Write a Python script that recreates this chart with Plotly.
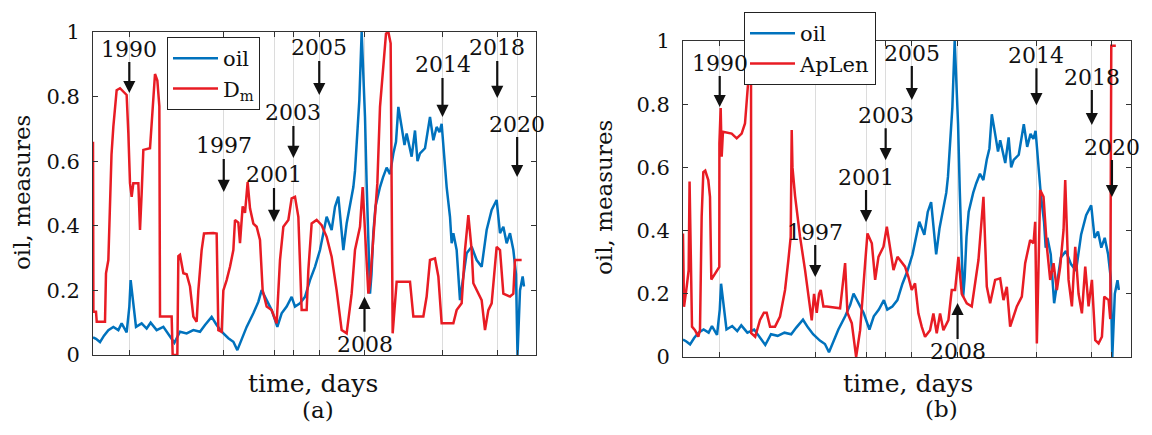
import plotly.graph_objects as go

# ---------------- data (time axis in days) ----------------
oil_days = [0, 60, 140, 220, 307, 407, 507, 573, 673, 727, 753, 793, 860, 973, 1073, 1153,
            1273, 1407, 1540, 1627, 1740, 1873, 2007, 2140, 2240, 2373, 2473, 2573, 2707,
            2807, 2887, 2973, 3073, 3207, 3307, 3373, 3473, 3573, 3687, 3773, 3873, 3973,
            4040, 4140, 4240, 4340, 4440, 4540, 4607, 4673, 4773, 4840, 4907, 4973, 5007,
            5073, 5173, 5207, 5240, 5273, 5327, 5373, 5407, 5440, 5473, 5507, 5540, 5570,
            5607, 5650, 5700, 5740, 5800, 5873, 5940, 6007, 6060, 6107, 6173, 6230, 6273,
            6373, 6440, 6490, 6540, 6640, 6740, 6807, 6873, 6930, 6973, 7020, 7073, 7140,
            7173, 7207, 7273, 7340, 7407, 7473, 7573, 7673, 7773, 7873, 7973, 8073, 8140,
            8207, 8273, 8340, 8407, 8460, 8490, 8540, 8593, 8620]
oil_vals = [0.055, 0.05, 0.04, 0.06, 0.077, 0.087, 0.077, 0.098, 0.07, 0.15, 0.232, 0.17,
            0.087, 0.098, 0.082, 0.1, 0.077, 0.087, 0.057, 0.038, 0.072, 0.067, 0.077, 0.072,
            0.093, 0.118, 0.093, 0.072, 0.052, 0.041, 0.015, 0.046, 0.087, 0.129, 0.165,
            0.201, 0.17, 0.139, 0.087, 0.129, 0.15, 0.18, 0.15, 0.16, 0.18, 0.232, 0.273,
            0.325, 0.377, 0.428, 0.387, 0.459, 0.49, 0.366, 0.325, 0.407, 0.5, 0.52, 0.57,
            0.655, 0.79, 1.0, 0.89, 0.737, 0.53, 0.377, 0.19, 0.25, 0.38, 0.46, 0.5, 0.52,
            0.55, 0.58, 0.56, 0.624, 0.66, 0.768, 0.706, 0.65, 0.686, 0.614, 0.695, 0.6,
            0.624, 0.64, 0.737, 0.665, 0.706, 0.69, 0.716, 0.624, 0.52, 0.428, 0.346, 0.377,
            0.325, 0.17, 0.243, 0.315, 0.335, 0.294, 0.273, 0.387, 0.449, 0.48, 0.377,
            0.397, 0.346, 0.377, 0.325, 0.25, 0.0, 0.2, 0.243, 0.212]

dm_days = [0, 8, 60, 75, 240, 260, 307, 340, 370, 407, 440, 473, 540, 607, 673, 707, 740,
           773, 807, 907, 940, 973, 1007, 1140, 1193, 1240, 1287, 1327, 1340, 1573, 1593,
           1687, 1707, 1740, 1807, 1873, 1940, 2007, 2073, 2107, 2173, 2220, 2407, 2473,
           2507, 2573, 2607, 2673, 2740, 2807, 2840, 2907, 2940, 2993, 3040, 3093, 3140,
           3207, 3273, 3340, 3393, 3473, 3573, 3673, 3740, 3807, 3907, 3973, 4040, 4107,
           4173, 4273, 4307, 4373, 4473, 4573, 4673, 4773, 4873, 4973, 5073, 5173, 5240,
           5340, 5393, 5440, 5507, 5540, 5607, 5687, 5740, 5807, 5860, 5907, 5953, 5993,
           6073, 6340, 6407, 6607, 6673, 6740, 6840, 6907, 6973, 7207, 7273, 7373, 7440,
           7507, 7573, 7607, 7773, 7840, 7907, 7973, 8073, 8140, 8207, 8340, 8407, 8440,
           8573]
dm_vals = [0.66, 0.134, 0.134, 0.103, 0.103, 0.253, 0.294, 0.45, 0.62, 0.707, 0.779, 0.82,
           0.826, 0.815, 0.805, 0.687, 0.532, 0.49, 0.532, 0.532, 0.387, 0.5, 0.635, 0.64,
           0.78, 0.87, 0.85, 0.77, 0.119, 0.119, 0.0, 0.0, 0.306, 0.31, 0.253, 0.25, 0.212,
           0.119, 0.103, 0.2, 0.325, 0.376, 0.378, 0.376, 0.077, 0.072, 0.2, 0.232, 0.273,
           0.325, 0.418, 0.41, 0.346, 0.46, 0.44, 0.535, 0.454, 0.407, 0.397, 0.356, 0.2,
           0.15, 0.139, 0.098, 0.294, 0.397, 0.418, 0.485, 0.49, 0.428, 0.139, 0.139, 0.263,
           0.407, 0.418, 0.402, 0.366, 0.304, 0.2, 0.077, 0.067, 0.19, 0.325, 0.397, 0.52,
           0.377, 0.19, 0.222, 0.377, 0.532, 0.768, 0.892, 0.995, 1.0, 0.965, 0.067, 0.227,
           0.227, 0.119, 0.119, 0.181, 0.294, 0.299, 0.243, 0.098, 0.098, 0.139, 0.16,
           0.325, 0.433, 0.325, 0.222, 0.17, 0.077, 0.139, 0.16, 0.335, 0.325, 0.19, 0.181,
           0.19, 0.294, 0.294]

aplen_days = [0, 20, 73, 112, 130, 150, 178, 237, 303, 336, 369, 402, 440, 500, 534, 560,
              666, 718, 720, 745, 765, 790, 963, 1062, 1160, 1226, 1292, 1325, 1345, 1350,
              1428, 1523, 1600, 1655, 1721, 1820, 1919, 2018, 2084, 2130, 2150, 2165, 2216,
              2315, 2414, 2480, 2546, 2592, 2645, 2690, 2724, 2777, 2843, 3107, 3206, 3252,
              3338, 3424, 3503, 3602, 3648, 3734, 3800, 3866, 3965, 4031, 4097, 4163, 4242,
              4295, 4391, 4457, 4523, 4589, 4655, 4721, 4787, 4886, 4952, 5018, 5084, 5150,
              5249, 5315, 5381, 5447, 5513, 5612, 5711, 5843, 5942, 6008, 6074, 6173, 6272,
              6338, 6404, 6470, 6602, 6701, 6767, 6866, 6932, 6965, 6998, 7064, 7130, 7196,
              7262, 7328, 7394, 7460, 7526, 7559, 7625, 7691, 7757, 7823, 7889, 7955, 8021,
              8087, 8153, 8219, 8285, 8331, 8417, 8450, 8470, 8560]
aplen_vals = [0.391, 0.159, 0.222, 0.275, 0.555, 0.3, 0.096, 0.085, 0.064, 0.085, 0.444,
              0.585, 0.59, 0.56, 0.507, 0.245, 0.275, 0.285, 0.676, 0.788, 0.634, 0.713,
              0.707, 0.692, 0.707, 0.739, 0.876, 0.918, 0.9, 0.075, 0.064, 0.117, 0.14, 0.14,
              0.096, 0.096, 0.128, 0.212, 0.307, 0.38, 0.718, 0.6, 0.51, 0.38, 0.275, 0.2,
              0.116, 0.2, 0.14, 0.2, 0.212, 0.16, 0.16, 0.154, 0.297, 0.14, 0.107, 0.0, 0.085,
              0.297, 0.391, 0.36, 0.244, 0.317, 0.349, 0.412, 0.338, 0.275, 0.317, 0.307,
              0.286, 0.254, 0.212, 0.233, 0.138, 0.096, 0.064, 0.085, 0.138, 0.075, 0.138,
              0.085, 0.117, 0.212, 0.212, 0.317, 0.2, 0.17, 0.16, 0.307, 0.507, 0.223, 0.17,
              0.244, 0.249, 0.18, 0.222, 0.096, 0.16, 0.191, 0.297, 0.37, 0.36, 0.428, 0.043,
              0.528, 0.507, 0.349, 0.244, 0.297, 0.212, 0.286, 0.402, 0.56, 0.244, 0.16,
              0.349, 0.2, 0.138, 0.286, 0.16, 0.244, 0.053, 0.043, 0.064, 0.191, 0.18, 0.12,
              0.985, 0.985]

event_years = ["1990", "1997", "2001", "2003", "2005", "2008", "2014", "2018", "2020"]
event_days = [726, 2615, 3620, 4008, 4525, 5430, 6990, 8085, 8483]

y_ticks = [0, 0.2, 0.4, 0.6, 0.8, 1]
y_tick_labels = ["0", "0.2", "0.4", "0.6", "0.8", "1"]

# ---------------- styling / layout ----------------
FONT = "DejaVu Serif"
BLUE = "#0072BD"
RED = "#e81c24"
OFF = 8                      # page body margin of the html page
W, H = 1152 - 2 * OFF, 435 - 2 * OFF
X_MAX = 8860


def fx(px):                  # page pixel -> paper fraction (x)
    return (px - OFF) / W


def fy(py):                  # page pixel -> paper fraction (y)
    return 1 - (py - OFF) / H


# annotation placement: (arrow tip value, text centre offset in px; negative = above)
left_marks = [(0.811, -44), (0.505, -46), (0.412, -47), (0.61, -45), (0.805, -47),
              (0.18, 48), (0.737, -52), (0.796, -50), (0.551, -53)]
right_marks = [(0.791, -44), (0.253, -45), (0.427, -45), (0.623, -45), (0.813, -47),
               (0.171, 49), (0.797, -50), (0.734, -48), (0.506, -50)]

fig = go.Figure()
fig.add_trace(go.Scatter(x=oil_days, y=oil_vals, mode="lines", name="oil",
                         line=dict(color=BLUE, width=2.5), xaxis="x", yaxis="y",
                         legend="legend"))
fig.add_trace(go.Scatter(x=dm_days, y=dm_vals, mode="lines", name="D<sub>m</sub>",
                         line=dict(color=RED, width=2.5), xaxis="x", yaxis="y",
                         legend="legend"))
fig.add_trace(go.Scatter(x=oil_days, y=oil_vals, mode="lines", name="oil",
                         line=dict(color=BLUE, width=2.5), xaxis="x2", yaxis="y2",
                         legend="legend2"))
fig.add_trace(go.Scatter(x=aplen_days, y=aplen_vals, mode="lines", name="ApLen",
                         line=dict(color=RED, width=2.5), xaxis="x2", yaxis="y2",
                         legend="legend2"))


def xaxis_style(domain, anchor):
    return dict(domain=domain, anchor=anchor, range=[0, X_MAX], tickvals=event_days,
                showticklabels=False, ticks="inside", ticklen=5, tickcolor="#333",
                showgrid=True, gridcolor="#dcdcdc", gridwidth=1, zeroline=False,
                showline=True, linecolor="#333", linewidth=1, mirror="ticks",
                automargin=False)


def yaxis_style(domain, anchor):
    return dict(domain=domain, anchor=anchor, range=[0, 1], tickvals=y_ticks,
                ticktext=y_tick_labels, ticks="inside", ticklen=5, tickcolor="#333",
                showgrid=False, zeroline=False, showline=True, linecolor="#333",
                linewidth=1, mirror="ticks", ticklabelstandoff=8, automargin=False,
                tickfont=dict(family=FONT, size=21, color="#111"))


L = (93, 536, 32, 355)       # page pixels: left, right, top, bottom
R = (683, 1131, 41, 357)

fig.update_layout(
    template="none",
    width=W, height=H, margin=dict(l=0, r=0, t=0, b=0, pad=0, autoexpand=False),
    paper_bgcolor="white", plot_bgcolor="white",
    font=dict(family=FONT, size=21, color="#111"),
    xaxis=xaxis_style([fx(L[0]), fx(L[1])], "y"),
    yaxis=yaxis_style([fy(L[3]), fy(L[2])], "x"),
    xaxis2=xaxis_style([fx(R[0]), fx(R[1])], "y2"),
    yaxis2=yaxis_style([fy(R[3]), fy(R[2])], "x2"),
    legend=dict(x=fx(167), y=fy(37), xanchor="left", yanchor="top",
                bgcolor="white", bordercolor="#222", borderwidth=1, itemwidth=45,
                font=dict(family=FONT, size=21, color="#111"), tracegroupgap=0),
    legend2=dict(x=fx(744), y=fy(12), xanchor="left", yanchor="top",
                 bgcolor="white", bordercolor="#222", borderwidth=1, itemwidth=45,
                 font=dict(family=FONT, size=21, color="#111"), tracegroupgap=0),
    showlegend=True,
)
fig.update_yaxes(tickfont=dict(family=FONT, size=21, color="#111"))

annotations = []
for xr, yr, marks in (("x", "y", left_marks), ("x2", "y2", right_marks)):
    for year, day, (tip, off) in zip(event_years, event_days, marks):
        annotations.append(dict(x=day, y=tip, xref=xr, yref=yr, text=year, showarrow=True,
                                ax=0, ay=off, arrowhead=2, arrowsize=1.1,
                                arrowwidth=2.2, arrowcolor="#111", borderpad=0,
                                font=dict(family=FONT, size=22, color="#111")))

# axis titles and panel captions (page pixel positions)
for txt, px, py, size, angle in (("oil, measures", 22, 193, 23, -90),
                                  ("oil, measures", 604, 198, 23, -90),
                                  ("time, days", 313, 383, 25, 0),
                                  ("time, days", 908, 383, 25, 0),
                                  ("(a)", 318, 410, 23, 0),
                                  ("(b)", 941, 409, 23, 0)):
    annotations.append(dict(x=fx(px), y=fy(py), xref="paper", yref="paper", text=txt,
                            showarrow=False, textangle=angle, xanchor="center",
                            yanchor="middle", borderpad=0,
                            font=dict(family=FONT, size=size, color="#111")))

fig.update_layout(annotations=annotations)
fig.write_html("out.html")
